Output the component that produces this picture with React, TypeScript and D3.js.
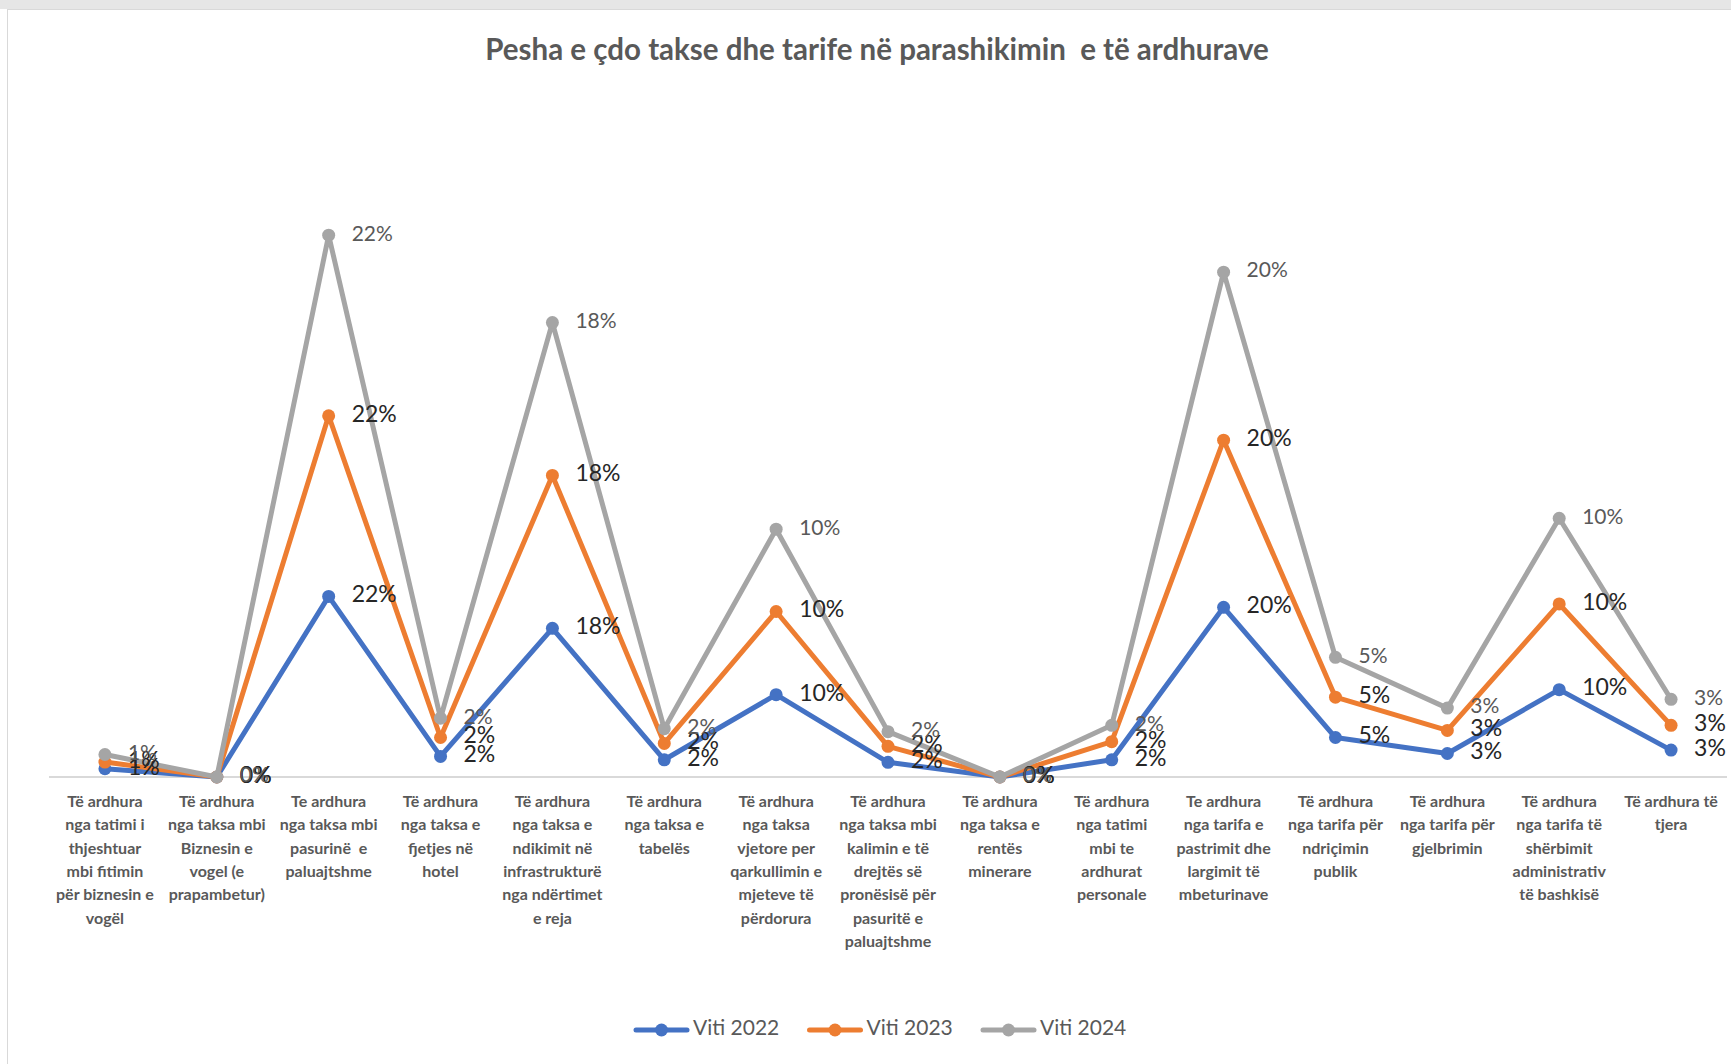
import React from 'react';
import * as d3 from 'd3';

const categoryLabels: string[][] = [
  ['Të ardhura', 'nga tatimi i', 'thjeshtuar', 'mbi fitimin', 'për biznesin e', 'vogël'],
  ['Të ardhura', 'nga taksa mbi', 'Biznesin e', 'vogel (e', 'prapambetur)'],
  ['Te ardhura', 'nga taksa mbi', 'pasurinë  e', 'paluajtshme'],
  ['Të ardhura', 'nga taksa e', 'fjetjes në', 'hotel'],
  ['Të ardhura', 'nga taksa e', 'ndikimit në', 'infrastrukturë', 'nga ndërtimet', 'e reja'],
  ['Të ardhura', 'nga taksa e', 'tabelës'],
  ['Të ardhura', 'nga taksa', 'vjetore per', 'qarkullimin e', 'mjeteve të', 'përdorura'],
  ['Të ardhura', 'nga taksa mbi', 'kalimin e të', 'drejtës së', 'pronësisë për', 'pasuritë e', 'paluajtshme'],
  ['Të ardhura', 'nga taksa e', 'rentës', 'minerare'],
  ['Të ardhura', 'nga tatimi', 'mbi te', 'ardhurat', 'personale'],
  ['Te ardhura', 'nga tarifa e', 'pastrimit dhe', 'largimit të', 'mbeturinave'],
  ['Të ardhura', 'nga tarifa për', 'ndriçimin', 'publik'],
  ['Të ardhura', 'nga tarifa për', 'gjelbrimin'],
  ['Të ardhura', 'nga tarifa të', 'shërbimit', 'administrativ', 'të bashkisë'],
  ['Të ardhura të', 'tjera'],
];

const years = ['Viti 2022', 'Viti 2023', 'Viti 2024'];

const values2022 = [0.98, 0, 21.5, 2.45, 17.7, 2.05, 9.8, 1.75, 0, 2.05, 20.2, 4.7, 2.8, 10.4, 3.2];
const values2023 = [0.8, 0, 21.5, 2.25, 18.2, 1.95, 9.9, 1.9, 0, 2.15, 19.9, 4.8, 2.75, 10.2, 2.95];
const values2024 = [0.9, 0, 21.5, 2.3, 18.2, 1.75, 9.8, 1.75, 0, 1.95, 20.0, 4.75, 2.65, 10.2, 3.1];

const seriesColors = ['#4472C4', '#ED7D31', '#A5A5A5'];
const labelColors = ['#262626', '#262626', '#595959'];

const title = 'Pesha e çdo takse dhe tarife në parashikimin  e të ardhurave';

const FONT = "Lato, 'Noto Sans', sans-serif";

export default function App() {
  const W = 1731;
  const H = 1064;
  const baseY = 777;
  const idx = d3.range(categoryLabels.length);
  const x = d3.scalePoint<number>().domain(idx).range([49, 1727]).padding(0.5);
  const y = d3.scaleLinear().domain([0, 70]).range([baseY, baseY - 588]);

  const seriesValues = [values2022, values2023, values2024];
  const rows = idx.map((i) => {
    const r: Record<string, number> = { i };
    years.forEach((k, s) => (r[k] = seriesValues[s][i]));
    return r;
  });
  const stacked = d3.stack<Record<string, number>>().keys(years)(rows);

  const line = d3
    .line<d3.SeriesPoint<Record<string, number>>>()
    .x((d) => x(d.data.i) as number)
    .y((d) => y(d[1]));

  const fmt = d3.format('.0%');

  return (
    <div style={{ position: 'absolute', left: 0, top: 0 }}>
      <svg width={W} height={H} style={{ display: 'block', background: '#fff', whiteSpace: 'pre' }}>
        <rect x={0} y={0} width={W} height={9} fill="#e6e6e6" />
        <rect x={7.5} y={9.5} width={W + 20} height={H} fill="#fff" stroke="#d9d9d9" />
        <text
          x={877}
          y={52}
          textAnchor="middle"
          dominantBaseline="middle"
          fontFamily={FONT}
          fontWeight={700}
          fontSize={29.5}
          fill="#595959"
          style={{ whiteSpace: 'pre' }}
        >
          {title}
        </text>

        <line x1={49} x2={1727} y1={baseY} y2={baseY} stroke="#d9d9d9" strokeWidth={2} />

        {idx.map((i) => (
          <text
            key={'c' + i}
            x={x(i)}
            y={802}
            textAnchor="middle"
            fontFamily={FONT}
            fontWeight={700}
            fontSize={16}
            fill="#595959"
            style={{ whiteSpace: 'pre' }}
          >
            {categoryLabels[i].map((ln, j) => (
              <tspan key={j} x={x(i)} y={803 + j * 23.3} dominantBaseline="middle">
                {ln}
              </tspan>
            ))}
          </text>
        ))}

        {stacked.map((s, si) => (
          <g key={s.key}>
            <path
              d={line(s) || ''}
              fill="none"
              stroke={seriesColors[si]}
              strokeWidth={5}
              strokeLinejoin="round"
              strokeLinecap="round"
            />
            {s.map((d, di) => (
              <circle key={di} cx={x(d.data.i)} cy={y(d[1])} r={6.5} fill={seriesColors[si]} />
            ))}
          </g>
        ))}

        {stacked.map((s, si) => (
          <g key={'l' + s.key}>
            {s.map((d, di) => (
              <text
                key={di}
                x={(x(d.data.i) as number) + 23}
                y={y(d[1])}
                dominantBaseline="middle"
                fontFamily={FONT}
                fontSize={si === 2 ? 21 : 23}
                fill={labelColors[si]}
              >
                {fmt(d.data[s.key] / 100)}
              </text>
            ))}
          </g>
        ))}

        {years.map((k, i) => {
          const x0 = 636 + i * 173.5;
          return (
            <g key={'lg' + k}>
              <line x1={x0} x2={x0 + 51} y1={1030} y2={1030} stroke={seriesColors[i]} strokeWidth={5} strokeLinecap="round" />
              <circle cx={x0 + 25.5} cy={1030} r={6.5} fill={seriesColors[i]} />
              <text x={x0 + 57} y={1030} dominantBaseline="middle" fontFamily={FONT} fontSize={21} fill="#595959">
                {k}
              </text>
            </g>
          );
        })}
      </svg>
    </div>
  );
}
